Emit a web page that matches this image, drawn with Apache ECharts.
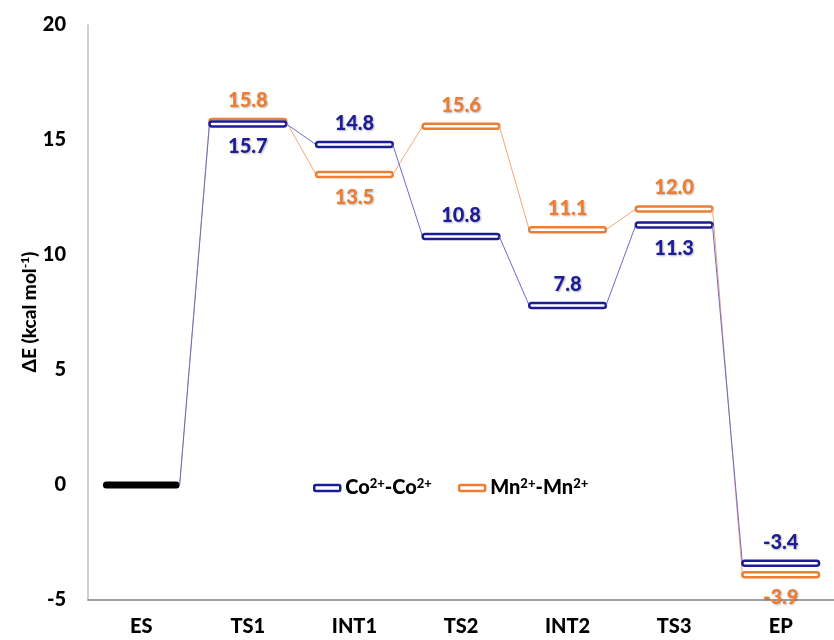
<!DOCTYPE html>
<html>
<head>
<meta charset="utf-8">
<style>
  html, body { margin: 0; padding: 0; background: #fff; }
  #chart { width: 834px; height: 640px; }
</style>
<script src="https://cdn.jsdelivr.net/npm/echarts@6/dist/echarts.min.js"></script>
</head>
<body>
<div id="chart"></div>
<script>
// reaction coordinate
const categories = ['ES', 'TS1', 'INT1', 'TS2', 'INT2', 'TS3', 'EP'];
// energies, kcal/mol
const coValues = [0, 15.7, 14.8, 10.8, 7.8, 11.3, -3.4];
const mnValues = [0, 15.8, 13.5, 15.6, 11.1, 12.0, -3.9];
// where each value label sits relative to its level
const coLabelSide = ['', 'below', 'above', 'above', 'above', 'below', 'above'];
const mnLabelSide = ['', 'above', 'below', 'above', 'above', 'above', 'below'];
const yTicks = [-5, 0, 5, 10, 15, 20];

const BLUE = '#1c1c96';
const ORANGE = '#ed7d31';
const FONT = 'Lato, "Open Sans", sans-serif';

function levelRenderer(values, sides, color, lineColor) {
  return function (params, api) {
    const i = params.dataIndex;
    const p = api.coord([i, values[i]]);
    const w = api.size([1, 0])[0] * 0.72;
    const children = [];
    if (i === 0) {
      // shared starting state, drawn once in black
      if (color === BLUE) {
        children.push({
          type: 'rect',
          shape: { x: p[0] - w / 2, y: p[1] - 3.5, width: w, height: 7, r: 3.5 },
          style: { fill: '#000' }
        });
      }
      return { type: 'group', children: children };
    }
    const q = api.coord([i - 1, values[i - 1]]);
    children.push({
      type: 'line',
      shape: { x1: q[0] + w / 2, y1: q[1], x2: p[0] - w / 2, y2: p[1] },
      style: { stroke: lineColor, lineWidth: 1 }
    });
    children.push({
      type: 'rect',
      shape: { x: p[0] - w / 2, y: p[1] - 2.5, width: w, height: 5, r: 2.5 },
      style: { fill: '#fff', stroke: color, lineWidth: 2.5 }
    });
    const dy = sides[i] === 'above' ? -21 : 23;
    children.push({
      type: 'text',
      style: {
        text: values[i].toFixed(1),
        x: p[0], y: p[1] + dy,
        align: 'center', verticalAlign: 'middle',
        fill: color,
        fontFamily: FONT, fontWeight: 900, fontSize: 20,
        textShadowColor: 'rgba(0,0,0,0.3)',
        textShadowBlur: 2,
        textShadowOffsetX: 1,
        textShadowOffsetY: 1
      }
    });
    return { type: 'group', children: children };
  };
}

const chart = echarts.init(document.getElementById('chart'));
chart.setOption({
  animation: false,
  grid: { left: 88, right: -10, top: 25, bottom: 40 },
  xAxis: {
    type: 'category',
    data: categories,
    axisLine: { onZero: false, lineStyle: { color: '#808080', width: 1.5 } },
    axisTick: { show: false },
    axisLabel: { color: '#000', fontFamily: FONT, fontWeight: 900, fontSize: 20, margin: 17 }
  },
  yAxis: {
    type: 'value',
    min: -5, max: 20, interval: 5,
    axisLine: { show: true, lineStyle: { color: '#bfbfbf', width: 1.5 } },
    axisTick: { show: false },
    splitLine: { show: false },
    axisLabel: {
      color: '#000', fontFamily: FONT, fontWeight: 900, fontSize: 20, margin: 22,
      formatter: function (v) { return yTicks.indexOf(v) >= 0 ? String(v) : ''; }
    }
  },
  legend: {
    left: 308, top: 472,
    itemWidth: 26, itemHeight: 6, itemGap: 26,
    icon: 'roundRect',
    data: [
      { name: 'Co', itemStyle: { color: '#fff', borderColor: BLUE, borderWidth: 2.5 } },
      { name: 'Mn', itemStyle: { color: '#fff', borderColor: ORANGE, borderWidth: 2.5 } }
    ],
    formatter: function (n) { return '{b|' + n + '}{s|2+}{b|-' + n + '}{s|2+}'; },
    textStyle: {
      color: '#000', fontFamily: FONT, fontWeight: 900, fontSize: 20,
      rich: {
        b: { color: '#000', fontFamily: FONT, fontWeight: 900, fontSize: 20 },
        s: { color: '#000', fontFamily: FONT, fontWeight: 900, fontSize: 13, padding: [0, 0, 9, 0] }
      }
    }
  },
  graphic: [{
    type: 'text',
    x: 30, y: 312,
    rotation: Math.PI / 2,
    style: {
      text: '{b|ΔE (kcal mol}{s|-1}{b|)}',
      align: 'center', verticalAlign: 'middle',
      fill: '#000',
      fontFamily: FONT, fontWeight: 900, fontSize: 19,
      rich: {
        b: { fill: '#000', fontFamily: FONT, fontWeight: 900, fontSize: 19 },
        s: { fill: '#000', fontFamily: FONT, fontWeight: 900, fontSize: 12, padding: [0, 0, 9, 0] }
      }
    }
  }],
  series: [
    {
      name: 'Mn', type: 'custom',
      data: mnValues.map(function (v, i) { return [i, v]; }),
      itemStyle: { color: ORANGE },
      renderItem: levelRenderer(mnValues, mnLabelSide, ORANGE, '#f4a672')
    },
    {
      name: 'Co', type: 'custom',
      data: coValues.map(function (v, i) { return [i, v]; }),
      itemStyle: { color: BLUE },
      renderItem: levelRenderer(coValues, coLabelSide, BLUE, '#6a6ad0')
    }
  ]
});
</script>
</body>
</html>
